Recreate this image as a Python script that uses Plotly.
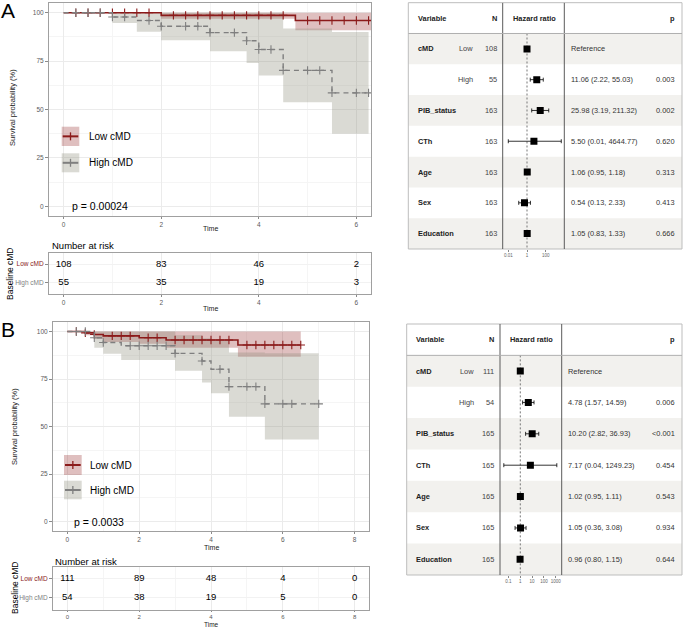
import numpy as np
import plotly.graph_objects as go

W, H = 685, 627
FONT = "Liberation Sans, Arial, sans-serif"
RED = "#8b1a1a"
GRAY = "#7f7f7f"
RED_BAND = "rgba(139,26,26,0.28)"
GRAY_BAND = "rgba(140,140,120,0.32)"

# ---------------- Panel A: Kaplan-Meier ----------------
A_low_t = [0, 2.0, 4.75, 6.5]
A_low_s = [100, 98.6, 96.0, 96.0]
A_low_lo = [100, 96.9, 90.9, 90.9]
A_low_hi = [100, 100, 100, 100]
A_low_cens = [0.25, 0.5, 0.75, 1.0, 1.25, 1.5, 1.75, 2.25, 2.5, 2.75, 3.0, 3.25, 3.5,
              3.75, 4.0, 4.25, 4.5, 5.0, 5.25, 5.5, 5.75, 6.0, 6.25]
A_high_t = [0, 1.0, 1.5, 2.0, 3.0, 3.75, 4.0, 4.5, 5.5, 6.25]
A_high_s = [100, 97.8, 96.0, 93.0, 89.7, 85.5, 81.0, 70.2, 58.6, 58.6]
A_high_lo = [100, 94.7, 90.1, 85.8, 80.1, 74.0, 67.6, 53.8, 37.5, 37.5]
A_high_hi = [100, 100, 100, 100, 100, 100, 100, 91.8, 90.0, 90.0]
A_high_cens = [0.25, 0.5, 0.75, 1.0, 1.25, 1.75, 2.0, 2.5, 2.75, 3.0, 3.5, 3.75, 4.0,
               4.25, 4.5, 5.0, 5.25, 5.5, 6.0, 6.25]
A_pval = "p = 0.00024"
A_risk_times = [0, 2, 4, 6]
A_risk_low = [108, 83, 46, 2]
A_risk_high = [55, 35, 19, 3]

# ---------------- Panel B: Kaplan-Meier ----------------
B_low_t = [0, 0.5, 0.75, 1.0, 2.0, 2.75, 4.75, 6.5]
B_low_s = [100, 99.3, 98.4, 97.7, 96.7, 95.5, 92.9, 92.9]
B_low_lo = [100, 98.0, 96.0, 94.5, 93.5, 91.5, 86.7, 86.7]
B_low_hi = [100, 100, 100, 100, 100, 100, 100, 100]
B_low_cens = [0.25, 0.5, 0.75, 1.25, 1.5, 1.75, 2.25, 2.5, 3.0, 3.25, 3.5, 3.75, 4.0,
              4.25, 4.5, 5.0, 5.25, 5.5, 5.75, 6.0, 6.25, 6.5]
B_high_t = [0, 0.75, 1.0, 1.5, 3.0, 3.75, 4.0, 4.5, 5.5, 7.0]
B_high_s = [100, 96.7, 94.2, 92.5, 88.5, 84.5, 80.1, 71.0, 61.9, 61.9]
B_high_lo = [100, 91.5, 88.3, 85.0, 79.4, 73.1, 67.5, 55.1, 43.2, 43.2]
B_high_hi = [100, 100, 100, 100, 98.0, 96.5, 95.0, 89.0, 88.5, 88.5]
B_high_cens = [0.25, 0.5, 0.75, 1.0, 1.75, 2.0, 2.25, 2.5, 2.75, 3.0, 3.75, 4.25, 4.5,
               5.0, 5.25, 5.5, 6.0, 6.25, 7.0]
B_pval = "p = 0.0033"
B_risk_times = [0, 2, 4, 6, 8]
B_risk_low = [111, 89, 48, 4, 0]
B_risk_high = [54, 38, 19, 5, 0]

# ---------------- Forest tables ----------------
F_vars = ["cMD", "", "PIB_status", "CTh", "Age", "Sex", "Education"]
F_levels = ["Low", "High", "", "", "", "", ""]
FA_n = [108, 55, 163, 163, 163, 163, 163]
FA_hr = [1.0, 11.06, 25.98, 5.50, 1.06, 0.54, 1.05]
FA_lo = [None, 2.22, 3.19, 0.01, 0.95, 0.13, 0.83]
FA_hi = [None, 55.03, 211.32, 4644.77, 1.18, 2.33, 1.33]
FA_p = ["", "0.003", "0.002", "0.620", "0.313", "0.413", "0.666"]
FA_ticks = [0.01, 1, 100]
FA_ticktext = ["0.01", "1", "100"]

FB_n = [111, 54, 165, 165, 165, 165, 165]
FB_hr = [1.0, 4.78, 10.20, 7.17, 1.02, 1.05, 0.96]
FB_lo = [None, 1.57, 2.82, 0.04, 0.95, 0.36, 0.80]
FB_hi = [None, 14.59, 36.93, 1249.23, 1.11, 3.08, 1.15]
FB_p = ["", "0.006", "<0.001", "0.454", "0.543", "0.934", "0.644"]
FB_ticks = [0.1, 1, 10, 100, 1000]
FB_ticktext = ["0.1", "1", "10", "100", "1000"]


def px(x):
    return x / W


def py(y):
    return 1 - y / H


def step_at(ts, ss, tc):
    ts = np.asarray(ts, float)
    ss = np.asarray(ss, float)
    idx = np.searchsorted(ts, np.asarray(tc, float), side="right") - 1
    return ss[idx]


fig = go.Figure()
annotations = []
shapes = []


def km_panel(xa, ya, lowt, lows, lowlo, lowhi, lowc, hight, highs, highlo, highhi, highc):
    common = dict(xaxis=xa, yaxis=ya, hoverinfo="skip", showlegend=False)
    for t, lo, hi, col in [(lowt, lowlo, lowhi, RED_BAND), (hight, highlo, highhi, GRAY_BAND)]:
        fig.add_trace(go.Scatter(x=t, y=lo, mode="lines", line=dict(width=0, shape="hv"), **common))
        fig.add_trace(go.Scatter(x=t, y=hi, mode="lines", line=dict(width=0, shape="hv"),
                                 fill="tonexty", fillcolor=col, **common))
    fig.add_trace(go.Scatter(x=lowt, y=lows, mode="lines",
                             line=dict(color=RED, width=1.6, shape="hv"), **common))
    fig.add_trace(go.Scatter(x=lowc, y=step_at(lowt, lows, lowc), mode="markers",
                             marker=dict(symbol="cross-thin", size=6,
                                         line=dict(color=RED, width=1.1)), **common))
    fig.add_trace(go.Scatter(x=hight, y=highs, mode="lines",
                             line=dict(color=GRAY, width=1.4, shape="hv", dash="5px,4px"), **common))
    fig.add_trace(go.Scatter(x=highc, y=step_at(hight, highs, highc), mode="markers",
                             marker=dict(symbol="cross-thin", size=6,
                                         line=dict(color=GRAY, width=1.1)), **common))


km_panel("x", "y", A_low_t, A_low_s, A_low_lo, A_low_hi, A_low_cens,
         A_high_t, A_high_s, A_high_lo, A_high_hi, A_high_cens)
km_panel("x3", "y3", B_low_t, B_low_s, B_low_lo, B_low_hi, B_low_cens,
         B_high_t, B_high_s, B_high_lo, B_high_hi, B_high_cens)

for xa, ya, times, low, high in [("x2", "y2", A_risk_times, A_risk_low, A_risk_high),
                                 ("x4", "y4", B_risk_times, B_risk_low, B_risk_high)]:
    fig.add_trace(go.Scatter(x=times, y=[2] * len(times), mode="text", text=[str(v) for v in low],
                             textfont=dict(size=9.5, color="black"), xaxis=xa, yaxis=ya,
                             showlegend=False, hoverinfo="skip", cliponaxis=False))
    fig.add_trace(go.Scatter(x=times, y=[1] * len(times), mode="text", text=[str(v) for v in high],
                             textfont=dict(size=9.5, color="black"), xaxis=xa, yaxis=ya,
                             showlegend=False, hoverinfo="skip", cliponaxis=False))


def forest(xa, ya, box, col, textx, n, hr, lo, hi, p):
    x0, x1, yt, yb = box
    rows = list(range(1, len(hr) + 1))
    for r in rows:
        if r % 2 == 1:
            shapes.append(dict(type="rect", xref="paper", yref=ya, x0=px(x0), x1=px(x1),
                               y0=r - 0.5, y1=r + 0.5, fillcolor="#f2f1ee", line=dict(width=0),
                               layer="below"))
    shapes.append(dict(type="rect", xref="paper", yref="paper", x0=px(x0), x1=px(x1),
                       y0=py(yb), y1=py(yt), line=dict(color="#bdbdbd", width=1)))
    for cx in col:
        shapes.append(dict(type="line", xref="paper", yref=ya, x0=px(cx), x1=px(cx),
                           y0=-0.5, y1=len(hr) + 0.5, line=dict(color="#5a5a5a", width=1)))
    shapes.append(dict(type="line", xref="paper", yref=ya, x0=px(x0), x1=px(x1),
                       y0=0.5, y1=0.5, line=dict(color="#b0b0b0", width=1)))
    fig.add_trace(go.Scatter(x=[1, 1], y=[0.5, len(hr) + 0.5], mode="lines",
                             line=dict(color="#777777", width=1, dash="2px,2px"),
                             xaxis=xa, yaxis=ya, showlegend=False, hoverinfo="skip"))
    ci_r = [r for r, l in zip(rows, lo) if l is not None]
    ci_hr = [h for h, l in zip(hr, lo) if l is not None]
    ci_plus = [u - h for h, u, l in zip(hr, hi, lo) if l is not None]
    ci_minus = [h - l for h, l in zip(hr, lo) if l is not None]
    fig.add_trace(go.Scatter(x=ci_hr, y=ci_r, mode="markers",
                             marker=dict(symbol="square", size=0.1, color="black"),
                             error_x=dict(type="data", symmetric=False, array=ci_plus,
                                          arrayminus=ci_minus, color="black", thickness=0.8, width=2),
                             xaxis=xa, yaxis=ya, showlegend=False, hoverinfo="skip"))
    fig.add_trace(go.Scatter(x=hr, y=rows, mode="markers",
                             marker=dict(symbol="square", size=7, color="black"),
                             xaxis=xa, yaxis=ya, showlegend=False, hoverinfo="skip"))
    vx, lx, nx, hx, tx, ppx = textx
    fs = 7.4

    def ann(x, y, s, anchor, bold=False, color="#222222"):
        annotations.append(dict(xref="paper", yref=ya, x=px(x), y=y, text=(f"<b>{s}</b>" if bold else s),
                                showarrow=False, xanchor=anchor, yanchor="middle",
                                font=dict(size=fs, color=color, family=FONT)))

    ann(vx, 0, "Variable", "left", True)
    ann(nx, 0, "N", "right", True)
    ann(hx, 0, "Hazard ratio", "left", True)
    ann(ppx, 0, "p", "right", True)
    for r, v, lev, nn, h, l, u, pp in zip(rows, F_vars, F_levels, n, hr, lo, hi, p):
        if v:
            ann(vx, r, v, "left", True)
        if lev:
            ann(lx, r, lev, "right", False, "#444444")
        ann(nx, r, str(nn), "right", False, "#444444")
        txt = "Reference" if l is None else f"{h:.2f} ({l:.2f}, {u:.2f})"
        ann(tx, r, txt, "left", False, "#333333")
        if pp:
            ann(ppx, r, pp, "right", False, "#333333")


forest("x5", "y5", (408.3, 682, 2.7, 249), (502.7, 564.3),
       (415.7, 475, 498.5, 511, 569, 676.5), FA_n, FA_hr, FA_lo, FA_hi, FA_p)
forest("x6", "y6", (406.7, 682, 324, 575), (500, 561.7),
       (414.3, 475.7, 495.5, 507.7, 565.7, 676.5), FB_n, FB_hr, FB_lo, FB_hi, FB_p)


def km_x(dom, rng, dtick, anchor, tl=2, tfs=6.5):
    return dict(domain=[px(dom[0]), px(dom[1])], range=rng, anchor=anchor, tickmode="linear",
                tick0=0, dtick=dtick, ticks="outside", ticklen=tl, tickcolor="#8a8a8a",
                tickfont=dict(size=tfs, color="#5a5a5a"), showgrid=True, gridcolor="#ebebeb",
                gridwidth=0.8, minor=dict(dtick=dtick / 2, showgrid=True, gridcolor="#f5f5f5",
                                          gridwidth=0.6),
                showline=True, mirror=True, linecolor="#a0a0a0", linewidth=1, zeroline=False)


layout = dict(
    width=W, height=H, autosize=False, margin=dict(l=0, r=0, t=0, b=0),
    paper_bgcolor="white", plot_bgcolor="rgba(0,0,0,0)", font=dict(family=FONT),
    showlegend=False,
)
layout["xaxis"] = km_x((49, 371), [-0.3, 6.3], 2, "y")
layout["yaxis"] = dict(domain=[py(216), py(3)], range=[-5, 105], anchor="x", tickmode="linear",
                       tick0=0, dtick=25, ticks="outside", ticklen=3, tickcolor="#8a8a8a",
                       tickfont=dict(size=6.5, color="#5a5a5a"), showgrid=True, gridcolor="#ebebeb",
                       gridwidth=0.8, minor=dict(dtick=12.5, showgrid=True, gridcolor="#f5f5f5",
                                                 gridwidth=0.6),
                       showline=True, mirror=True, linecolor="#a0a0a0", linewidth=1, zeroline=False)
layout["xaxis3"] = km_x((53, 369), [-0.4, 8.4], 2, "y3")
layout["yaxis3"] = dict(layout["yaxis"], domain=[py(531), py(322)], anchor="x3")

risk_ticktext = [f"<span style='color:{RED}'>Low cMD</span>",
                 f"<span style='color:{GRAY}'>High cMD</span>"]
layout["xaxis2"] = km_x((49, 371), [-0.3, 6.3], 2, "y2")
layout["yaxis2"] = dict(domain=[py(294), py(253)], range=[0.4, 2.6], anchor="x2", tickmode="array",
                        tickvals=[2, 1], ticktext=risk_ticktext, ticks="outside", ticklen=3,
                        tickcolor="#8a8a8a", tickfont=dict(size=6.5), showgrid=True,
                        gridcolor="#f2f2f2", showline=True, mirror=True, linecolor="#a0a0a0",
                        linewidth=1, zeroline=False)
layout["xaxis4"] = km_x((53, 369), [-0.4, 8.4], 2, "y4", tl=1, tfs=6)
layout["yaxis4"] = dict(layout["yaxis2"], domain=[py(609.5), py(567)], anchor="x4")


def forest_x(dom, rng, tv, tt, anchor):
    return dict(type="log", domain=[px(dom[0]), px(dom[1])], range=rng, anchor=anchor,
                tickmode="array", tickvals=tv, ticktext=tt, ticks="outside", ticklen=2,
                tickangle=0, tickcolor="#888888", tickfont=dict(size=4.5, color="#666666"),
                showgrid=False, zeroline=False, showline=False)


layout["xaxis5"] = forest_x((502.7, 564.3), [-2.6, 3.99], FA_ticks, FA_ticktext, "y5")
layout["yaxis5"] = dict(domain=[py(249), py(2.7)], range=[7.5, -0.5], anchor="x5", visible=False)
layout["xaxis6"] = forest_x((500, 561.7), [-1.72, 3.51], FB_ticks, FB_ticktext, "y6")
layout["yaxis6"] = dict(domain=[py(575), py(324)], range=[7.5, -0.5], anchor="x6", visible=False)


def pann(x, y, s, size, anchor="center", angle=0, color="#222222"):
    annotations.append(dict(xref="paper", yref="paper", x=px(x), y=py(y), text=s, showarrow=False,
                            xanchor=anchor, yanchor="middle", textangle=angle,
                            font=dict(size=size, color=color, family=FONT)))


pann(7.5, 10, "A", 21, color="black")
pann(7.5, 329, "B", 21, color="black")
pann(210, 228.5, "Time", 7)
pann(12, 108, "Survival probability (%)", 7.5, angle=-90)
pann(50, 245, "Number at risk", 9.5, anchor="left", color="black")
pann(10, 274, "Baseline cMD", 8.5, angle=-90, color="black")
pann(210, 308, "Time", 7)
pann(70, 206, A_pval, 10.5, anchor="left", color="black")
pann(211, 547, "Time", 7)
pann(14, 427, "Survival probability (%)", 7.5, angle=-90)
pann(53, 561.5, "Number at risk", 9.5, anchor="left", color="black")
pann(15, 588, "Baseline cMD", 8.5, angle=-90, color="black")
pann(211, 624, "Time", 6.5)
pann(71.7, 522.3, B_pval, 10.5, anchor="left", color="black")


def legend_key(x0, x1, y0, y1, band, col, label, tx):
    shapes.append(dict(type="rect", xref="paper", yref="paper", x0=px(x0), x1=px(x1),
                       y0=py(y1), y1=py(y0), fillcolor=band, line=dict(width=0)))
    ym = (y0 + y1) / 2
    xm = (x0 + x1) / 2
    shapes.append(dict(type="line", xref="paper", yref="paper", x0=px(x0 + 1), x1=px(x1 - 1),
                       y0=py(ym), y1=py(ym), line=dict(color=col, width=2)))
    shapes.append(dict(type="line", xref="paper", yref="paper", x0=px(xm), x1=px(xm),
                       y0=py(ym - 4), y1=py(ym + 4), line=dict(color=col, width=1.3)))
    pann(tx, ym, label, 10, anchor="left", color="black")


legend_key(61.7, 79.3, 126.7, 146, RED_BAND, RED, "Low cMD", 86.7)
legend_key(61.7, 79.3, 153.3, 172.3, GRAY_BAND, GRAY, "High cMD", 86.7)
legend_key(64, 81.7, 455, 475, RED_BAND, RED, "Low cMD", 88.3)
legend_key(64, 81.7, 480.7, 499.3, GRAY_BAND, GRAY, "High cMD", 88.3)

layout["annotations"] = annotations
layout["shapes"] = shapes
fig.update_layout(**layout)
fig.write_html("out.html", config={"displayModeBar": False},
               post_script="document.body.style.margin='0';document.body.style.overflow='hidden';")
